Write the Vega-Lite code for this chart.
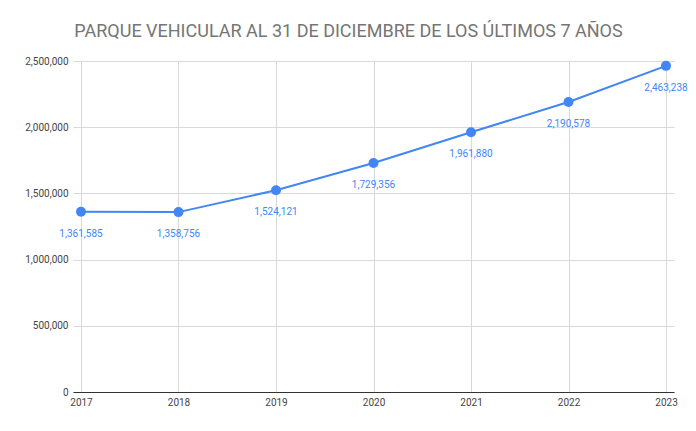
{
  "$schema": "https://vega.github.io/schema/vega-lite/v6.json",
  "width": 601,
  "height": 331,
  "autosize": "none",
  "padding": {"left": 73, "top": 61, "right": 22, "bottom": 39},
  "background": "white",
  "title": {
    "text": "PARQUE VEHICULAR AL 31 DE DICIEMBRE DE LOS ÚLTIMOS 7 AÑOS",
    "font": "Roboto",
    "fontSize": 18,
    "fontWeight": "normal",
    "color": "#757575",
    "anchor": "middle",
    "frame": "group",
    "dx": -25,
    "offset": 15
  },
  "data": {
    "values": [
      {"year": "2017", "value": 1361585},
      {"year": "2018", "value": 1358756},
      {"year": "2019", "value": 1524121},
      {"year": "2020", "value": 1729356},
      {"year": "2021", "value": 1961880},
      {"year": "2022", "value": 2190578},
      {"year": "2023", "value": 2463238}
    ]
  },
  "encoding": {
    "x": {
      "field": "year",
      "type": "ordinal",
      "scale": {"type": "point", "padding": 0.082},
      "axis": {
        "title": null,
        "labelAngle": 0,
        "labelFont": "Roboto",
        "labelFontSize": 10,
        "labelColor": "#444444",
        "ticks": false,
        "labelPadding": 5,
        "domainColor": "#333333",
        "domainWidth": 1,
        "grid": true,
        "gridColor": "#d9d9d9",
        "zindex": 0
      }
    },
    "y": {
      "field": "value",
      "type": "quantitative",
      "scale": {"domain": [0, 2500000], "nice": false},
      "axis": {
        "title": null,
        "values": [0, 500000, 1000000, 1500000, 2000000, 2500000],
        "format": ",d",
        "labelFont": "Roboto",
        "labelFontSize": 10,
        "labelColor": "#444444",
        "ticks": false,
        "domain": false,
        "labelPadding": 5,
        "gridColor": "#d9d9d9"
      }
    }
  },
  "layer": [
    {"mark": {"type": "line", "color": "#4285F4", "strokeWidth": 2}},
    {"mark": {"type": "point", "filled": true, "color": "#4285F4", "size": 100, "opacity": 1}},
    {
      "mark": {"type": "text", "color": "#4285F4", "font": "Roboto", "fontSize": 10, "dy": 22},
      "encoding": {"text": {"field": "value", "type": "quantitative", "format": ",d"}}
    }
  ],
  "config": {"view": {"stroke": null}}
}
